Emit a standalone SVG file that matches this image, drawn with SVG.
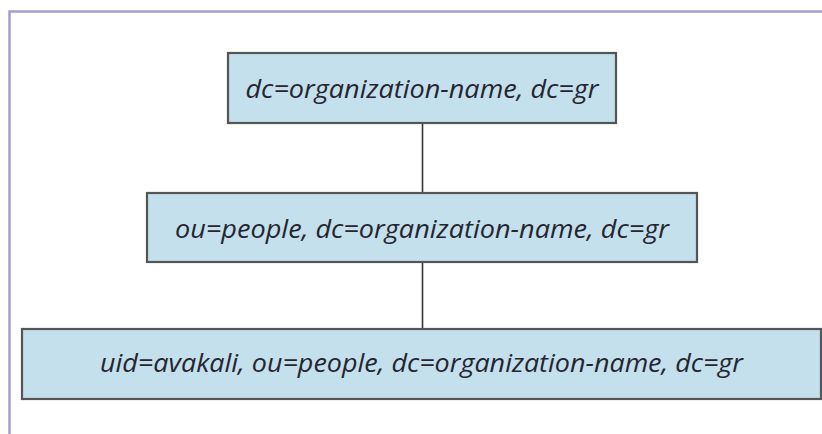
<svg xmlns="http://www.w3.org/2000/svg" width="822" height="434" viewBox="0 0 822 434">
<style>
.frame{fill:none;stroke:#a39fd0;stroke-width:2.5}
.box{fill:#c3e0ec;stroke:#555;stroke-width:2.2}
.lbl{font-family:"Open Sans","Liberation Sans",sans-serif;font-style:italic;font-size:25px;fill:#262630;text-anchor:middle}
.conn{stroke:#333;stroke-width:1.6;fill:none}
</style>
<rect width="822" height="434" fill="#fff"/>
<path class="frame" d="M9.5,434 V11.5 H822"/>
<g id="connectors">
<line class="conn" x1="422.5" y1="123" x2="422.5" y2="193"/>
<line class="conn" x1="422.5" y1="262" x2="422.5" y2="329"/>
</g>
<g id="node1">
<rect class="box" x="228" y="53" width="388" height="70"/>
<text class="lbl" x="422" y="98" textLength="353" lengthAdjust="spacingAndGlyphs">dc=organization-name, dc=gr</text>
</g>
<g id="node2">
<rect class="box" x="147" y="193" width="550" height="69"/>
<text class="lbl" x="422" y="238" textLength="494" lengthAdjust="spacingAndGlyphs">ou=people, dc=organization-name, dc=gr</text>
</g>
<g id="node3">
<rect class="box" x="22" y="329" width="799" height="70"/>
<text class="lbl" x="421.5" y="372" textLength="643" lengthAdjust="spacingAndGlyphs">uid=avakali, ou=people, dc=organization-name, dc=gr</text>
</g>
</svg>
